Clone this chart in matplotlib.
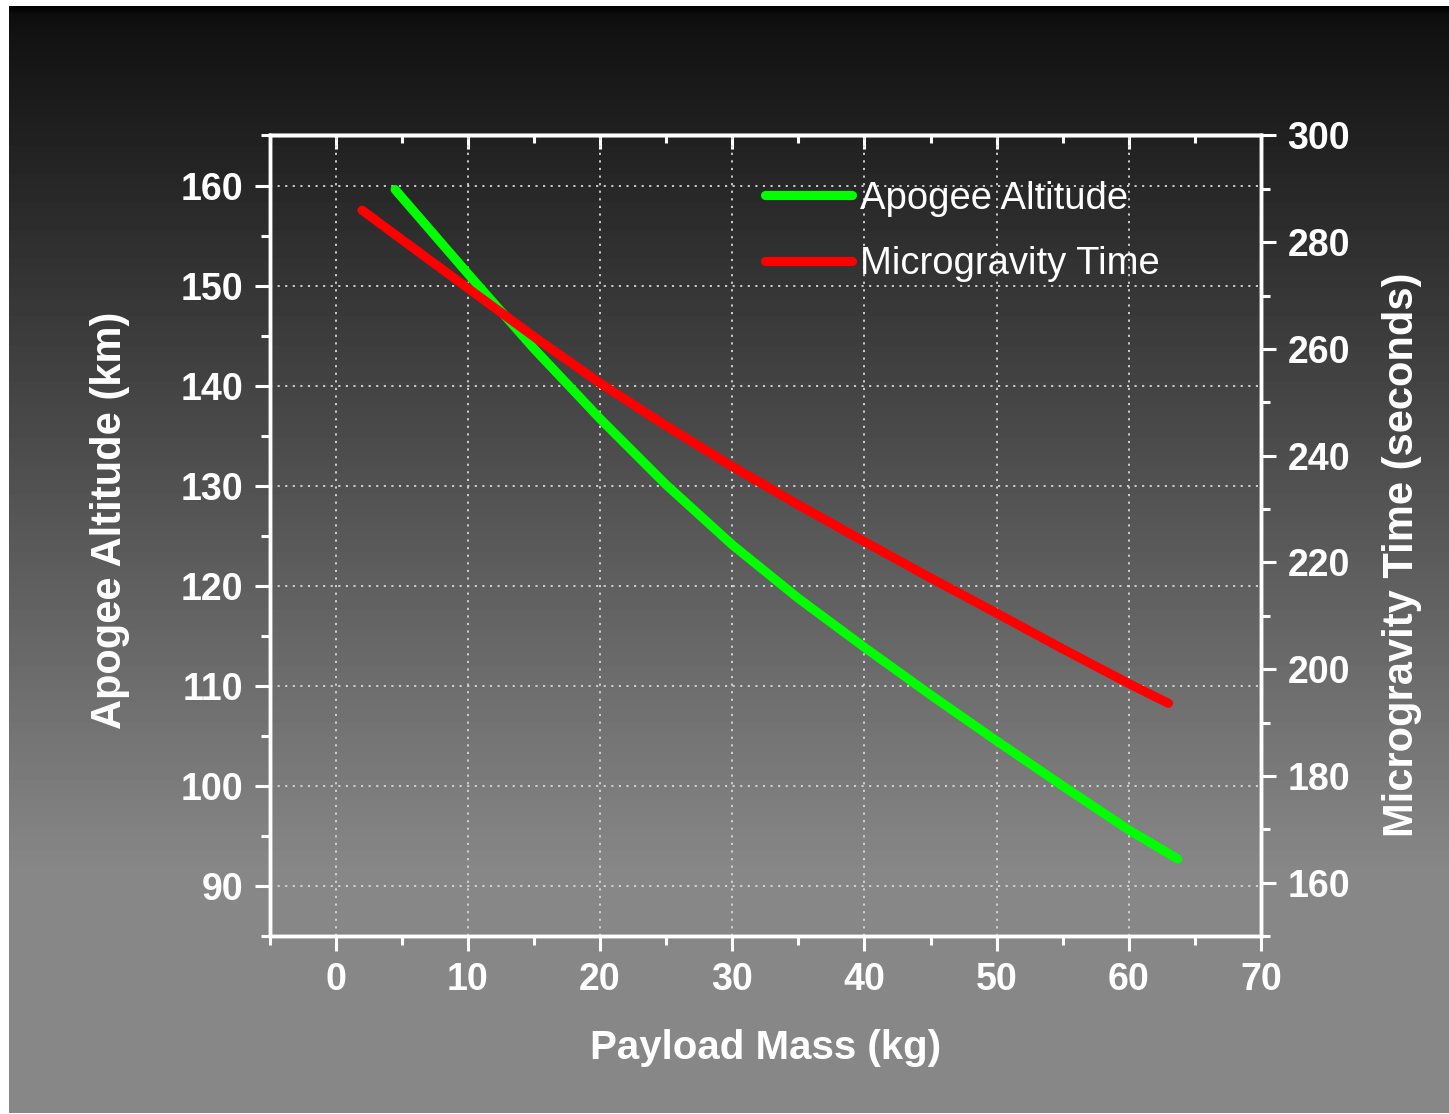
import numpy as np
import matplotlib
matplotlib.use('Agg')
import matplotlib.pyplot as plt
from matplotlib.ticker import MultipleLocator

plt.rcParams['font.family'] = ['Liberation Sans', 'DejaVu Sans']
plt.rcParams['font.weight'] = 'bold'

# data
mass_alt = [4.5, 10, 15, 20, 25, 30, 35, 40, 45, 50, 55, 60, 63.7]
apogee_alt = [159.6, 151.2, 143.7, 136.7, 130.1, 124.1, 118.75, 113.85, 109.1, 104.5, 100.0, 95.6, 92.7]

mass_time = [2, 5, 10, 15, 20, 25, 30, 35, 40, 45, 50, 55, 60, 63]
micro_time = [286.0, 280.5, 271.4, 262.3, 253.6, 245.6, 238.0, 230.8, 223.9, 217.1, 210.5, 203.8, 197.3, 193.6]

W, H = 1449, 1114
fig = plt.figure(figsize=(W / 100, H / 100), dpi=100)
fig.patch.set_facecolor('white')

# grey gradient background
bg = fig.add_axes([9 / W, 1 / H, (W - 9) / W, (H - 7) / H], zorder=-10)
rows = np.arange(6, H - 1)
shade = np.interp(rows, [6, 14, 30, 870, H], [0.0, 0.05, 0.07, 0.53, 0.53])
bg.imshow(shade[:, None], cmap='gray', vmin=0, vmax=1, aspect='auto', extent=[0, 1, 0, 1])
bg.axis('off')

# main axes
left, right, top, bottom = 269.5, 1261, 135.5, 936
ax = fig.add_axes([left / W, (H - bottom) / H, (right - left) / W, (bottom - top) / H])
ax.set_facecolor('none')
ax2 = ax.twinx()

ax.plot(mass_alt, apogee_alt, color='#00ff00', lw=6.6, solid_capstyle='round',
        solid_joinstyle='round', label='Apogee Altitude')
ax2.plot(mass_time, micro_time, color='#ff0000', lw=6.6, solid_capstyle='round',
         solid_joinstyle='round', label='Microgravity Time')

ax.set_xlim(-5, 70)
ax.set_ylim(85, 165)
ax2.set_ylim(150, 300)

ax.xaxis.set_major_locator(MultipleLocator(10))
ax.xaxis.set_minor_locator(MultipleLocator(5))
ax.yaxis.set_major_locator(MultipleLocator(10))
ax.yaxis.set_minor_locator(MultipleLocator(5))
ax2.yaxis.set_major_locator(MultipleLocator(20))
ax2.yaxis.set_minor_locator(MultipleLocator(10))

ax.set_xticks([0, 10, 20, 30, 40, 50, 60, 70])
ax.set_yticks([90, 100, 110, 120, 130, 140, 150, 160])

ax.grid(True, which='major', color='#d8d8d8', lw=1.3, ls=(0, (1.2, 3)))

for a in (ax, ax2):
    for s in a.spines.values():
        s.set_color('white')
        s.set_linewidth(2.5)

ax.tick_params(axis='both', which='major', direction='out', length=11, width=2.2,
               colors='white', labelsize=27, pad=8)
ax.tick_params(axis='both', which='minor', direction='out', length=6.5, width=2.2, colors='white')
ax2.tick_params(axis='y', which='major', direction='out', length=11, width=2.2,
                colors='white', labelsize=27, pad=8)
ax2.tick_params(axis='y', which='minor', direction='out', length=6.5, width=2.2, colors='white')

# inward ticks on the top edge
sec = ax.secondary_xaxis('top')
sec.xaxis.set_major_locator(MultipleLocator(10))
sec.xaxis.set_minor_locator(MultipleLocator(5))
sec.tick_params(which='major', direction='in', length=10, width=2.2, colors='white', labeltop=False)
sec.tick_params(which='minor', direction='in', length=6, width=2.2, colors='white')
sec.spines['top'].set_color('white')
sec.spines['top'].set_linewidth(2.5)

ax.set_xlabel('Payload Mass (kg)', fontsize=29, fontweight='bold', color='white', labelpad=22)
ax.set_ylabel('Apogee Altitude (km)', fontsize=30, fontweight='bold', color='white')
ax.yaxis.set_label_coords((130 - left) / (right - left), (bottom - 520) / (bottom - top))
ax2.set_ylabel('Microgravity Time (seconds)', fontsize=30, fontweight='bold', color='white')
ax2.yaxis.set_label_coords((1382 - left) / (right - left), (bottom - 555) / (bottom - top))

h1, l1 = ax.get_legend_handles_labels()
h2, l2 = ax2.get_legend_handles_labels()
leg = ax2.legend(h1 + h2, l1 + l2, loc='upper left', bbox_to_anchor=(0.48, 0.9675),
                 frameon=False, prop={'weight': 'normal', 'size': 27.5},
                 handlelength=2.3, handletextpad=0.2, labelspacing=0.78, borderpad=0)
for t in leg.get_texts():
    t.set_color('white')

fig.savefig('out.png', dpi=100)
